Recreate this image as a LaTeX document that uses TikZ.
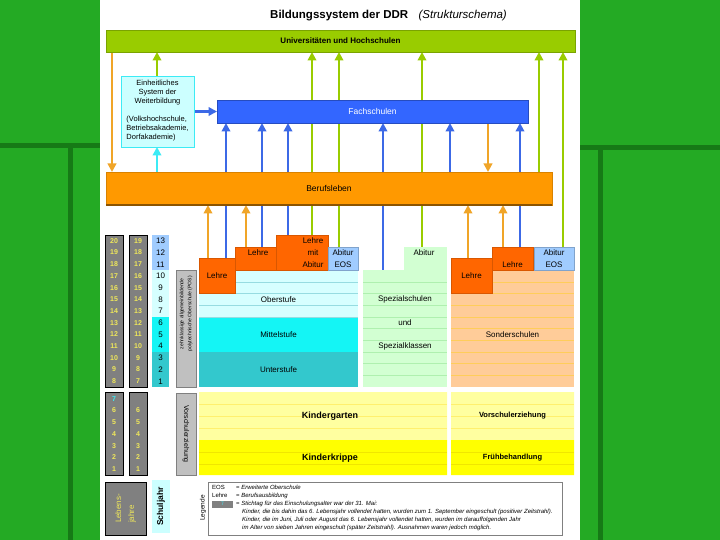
\documentclass[tikz,border=0pt]{standalone}
\usepackage{fontspec}
\setmainfont{Liberation Sans}
\usetikzlibrary{arrows.meta,positioning}
\definecolor{SlideGreen}{RGB}{36,170,36}
\definecolor{SlideDark}{RGB}{22,122,22}
\definecolor{UniGreen}{RGB}{153,204,0}
\definecolor{FachBlue}{RGB}{51,102,255}
\definecolor{BerufOrange}{RGB}{255,153,0}
\definecolor{LehreRed}{RGB}{255,102,0}
\definecolor{EosBlue}{RGB}{160,204,255}
\definecolor{WeiterCyan}{RGB}{204,255,255}
\definecolor{OberCyan}{RGB}{214,255,255}
\definecolor{OberLine}{RGB}{150,220,225}
\definecolor{MittelCyan}{RGB}{20,245,245}
\definecolor{UnterTeal}{RGB}{51,200,205}
\definecolor{SpezGreen}{RGB}{210,255,210}
\definecolor{SpezLine}{RGB}{175,240,175}
\definecolor{SonderPeach}{RGB}{255,204,153}
\definecolor{SonderLine}{RGB}{255,205,90}
\definecolor{KitaYellow}{RGB}{255,255,160}
\definecolor{KitaLine}{RGB}{255,240,110}
\definecolor{KrippeYellow}{RGB}{255,255,0}
\definecolor{KrippeLine}{RGB}{240,230,0}
\definecolor{AgeGray}{RGB}{128,128,128}
\definecolor{AgeYellow}{RGB}{240,232,90}
\definecolor{LabelGray}{RGB}{192,192,192}
\definecolor{ArrBlue}{RGB}{60,105,230}
\definecolor{ArrOrange}{RGB}{240,165,40}
\definecolor{ArrCyan}{RGB}{60,235,245}
\pgfdeclarelayer{page}
\pgfdeclarelayer{back}
\pgfsetlayers{page,back,main}
\newcommand{\flowarrow}[4]{%
  \draw[flow,#4] (#1,0 |- #2)--(#1,0 |- #3);}

\begin{document}
\begin{tikzpicture}[x=1pt,y=-1pt,
  blk/.style={anchor=north west,inner sep=0pt,outer sep=0pt},
  lbl/.style={inner sep=0pt,font=\fontsize{8}{11.7}\selectfont},
  lehre/.style={blk,fill=LehreRed,draw=LehreRed!85!black,line width=0.4pt},
  eos/.style={blk,fill=EosBlue,draw=EosBlue!80!black,line width=0.3pt,align=center,font=\fontsize{8}{11.7}\selectfont},
  agebox/.style={blk,fill=AgeGray,draw=black,line width=1pt},
  agenum/.style={inner sep=0pt,text=AgeYellow,font=\fontsize{7}{7}\selectfont\bfseries},
  sjnum/.style={inner sep=0pt,font=\fontsize{8}{8}\selectfont},
  prelbl/.style={inner sep=0pt,font=\fontsize{8.5}{9}\selectfont\bfseries},
  leg/.style={inner sep=0pt,anchor=west,font=\fontsize{6}{8.2}\selectfont},
  flow/.style={line width=2.2pt,-{Triangle[length=8.5pt,width=8.5pt]}}]

% slide
\useasboundingbox (0,0) rectangle (720,540);
\begin{pgfonlayer}{page}
\fill[SlideGreen] (0,0) rectangle (720,540);
\draw[SlideDark,line width=5pt] (0,146)--(100,146) (70,146)--(70,540);
\draw[SlideDark,line width=5pt] (580,148)--(720,148) (600,148)--(600,540);
\fill[white] (100,0) rectangle (580,540);
\end{pgfonlayer}

% title
\node[anchor=west,inner sep=0pt,font=\fontsize{11.5}{12}\selectfont\bfseries] (title) at (270,16) {Bildungssystem der DDR};
\node[right=10pt of title,inner sep=0pt,font=\fontsize{11.5}{12}\selectfont\itshape] (subtitle) {(Strukturschema)};

% upper bars
\node[blk,minimum width=469pt,minimum height=22pt,fill=UniGreen,draw=UniGreen!80!black,font=\fontsize{8}{9}\selectfont\bfseries] (univ) at (106,30) {Universitäten und Hochschulen};
\node[blk,minimum width=73pt,minimum height=71pt,fill=WeiterCyan,draw=ArrCyan,line width=0.6pt,align=center,font=\fontsize{7.5}{9}\selectfont] (weiter) at (121,76) {Einheitliches\\System der\\Weiterbildung\\[9pt]\begin{tabular}{@{}l@{}}(Volkshochschule,\\Betriebsakademie,\\Dorfakademie)\end{tabular}};
\node[blk,minimum width=311pt,minimum height=23pt,fill=FachBlue,draw=FachBlue!75!black,text=white,font=\fontsize{8.5}{9}\selectfont] (fach) at (217,100) {Fachschulen};
\node[blk,minimum width=446pt,minimum height=33pt,fill=BerufOrange,draw=BerufOrange!85!black,font=\fontsize{8.5}{9}\selectfont] (beruf) at (106,172) {Berufsleben};
\draw[BerufOrange!55!black,line width=1.2pt] (beruf.south west)--(beruf.south east);

% age columns
\node[agebox,minimum width=18pt,minimum height=152.1pt] (ageA) at (105,235) {};
\node[agebox,minimum width=18pt,minimum height=152.1pt] (ageB) at (129,235) {};
\node[agebox,minimum width=18pt,minimum height=83pt] (ageAlow) at (105,392) {};
\node[agebox,minimum width=18pt,minimum height=83pt] (ageBlow) at (129,392) {};
\foreach \n [count=\i from 0] in {20,19,...,8}
  \node[agenum] (ageA\n) at (114,240.85+\i*11.7) {\n};
\foreach \n [count=\i from 0] in {19,18,...,7}
  \node[agenum] (ageB\n) at (138,240.85+\i*11.7) {\n};
\node[agenum,text=ArrCyan] (ageAl7) at (114,398.8) {7};
\foreach \n [count=\i from 1] in {6,5,...,1} {
  \node[agenum] (ageAl\n) at (114,398.8+\i*11.7) {\n};
  \node[agenum] (ageBl\n) at (138,398.8+\i*11.7) {\n};
}

% school years
\fill[EosBlue] (152,235) rectangle (169,270.1);
\fill[OberCyan] (152,270.1) rectangle (169,316.9);
\fill[MittelCyan] (152,316.9) rectangle (169,352);
\fill[UnterTeal] (152,352) rectangle (169,387.1);
\foreach \n [count=\i from 0] in {13,12,...,1}
  \node[sjnum] (sj\n) at (160.5,240.85+\i*11.7) {\n};

% side labels
\node[blk,minimum width=20pt,minimum height=117pt,fill=LabelGray,draw=AgeGray] (poslbl) at (176,270.1) {};
\node[rotate=90,anchor=east,align=center,inner sep=0pt,font=\fontsize{5}{8}\selectfont] (poslblt) at (186,276) {zehnklassige allgemeinbildende\\polytechnische Oberschule (POS)};
\node[blk,minimum width=20pt,minimum height=82pt,fill=LabelGray,draw=AgeGray] (vorlbl) at (176,393) {};
\node[rotate=-90,inner sep=0pt,font=\fontsize{7}{8}\selectfont] (vorlblt) at (vorlbl.center) {Vorschulerziehung};

% POS
\fill[OberCyan] (199,270.1) rectangle (358,316.9);
\fill[MittelCyan] (199,316.9) rectangle (358,352);
\fill[UnterTeal] (199,352) rectangle (358,387.1);
\foreach \y in {270.1,281.8,293.5,305.2,316.9}
  \draw[OberLine,line width=0.6pt] (199,\y)--(358,\y);
\node[lbl] (ober) at (278.5,299.35) {Oberstufe};
\node[lbl] (mittel) at (278.5,334.45) {Mittelstufe};
\node[lbl] (unter) at (278.5,369.55) {Unterstufe};
\node[lehre,minimum width=36pt,minimum height=35.1pt] (lehreA) at (199,258.4) {};
\node[lbl] (lehreAt) at (217,275.95) {Lehre};
\node[lehre,minimum width=41pt,minimum height=23.4pt] (lehreB) at (235,246.7) {};
\node[lbl] (lehreBt) at (258,252.55) {Lehre};
\node[lehre,minimum width=52pt,minimum height=35.1pt] (lehreAbi) at (276,235) {};
\node[lbl,align=center] (lehreAbit) at (313,252.55) {Lehre\\mit\\Abitur};
\node[eos,minimum width=30pt,minimum height=23.4pt] (eosA) at (328,246.7) {Abitur\\EOS};

% Spezialschulen
\node[blk,fill=SpezGreen,minimum width=84pt,minimum height=117pt] (spez) at (363,270.1) {};
\node[blk,fill=SpezGreen,minimum width=43pt,minimum height=23.4pt] (spezAbi) at (404,246.7) {};
\foreach \y in {281.8,293.5,305.2,316.9,328.6,340.3,352,363.7,375.4}
  \draw[SpezLine,line width=0.6pt] (363,\y)--(447,\y);
\node[lbl] (spezAbit) at (424,252.55) {Abitur};
\node[lbl] (spezA) at (405,299.35) {Spezialschulen};
\node[lbl] (spezB) at (405,322.75) {und};
\node[lbl] (spezC) at (405,346.15) {Spezialklassen};

% Sonderschulen
\node[blk,fill=SonderPeach,minimum width=123pt,minimum height=117pt] (sonder) at (451,270.1) {};
\foreach \y in {281.8,293.5,305.2,316.9,328.6,340.3,352,363.7,375.4}
  \draw[SonderLine,line width=0.6pt] (451,\y)--(574,\y);
\node[lehre,minimum width=41pt,minimum height=35.1pt] (lehreC) at (451,258.4) {};
\node[lbl] (lehreCt) at (471.5,275.95) {Lehre};
\node[lehre,minimum width=41pt,minimum height=23.4pt] (lehreD) at (492,246.7) {};
\node[lbl] (lehreDt) at (512.5,264.25) {Lehre};
\node[eos,minimum width=40pt,minimum height=23.4pt] (eosB) at (534,246.7) {Abitur\\EOS};
\node[lbl] (sondert) at (512.5,334.45) {Sonderschulen};

% Vorschule
\fill[KitaYellow] (199,392) rectangle (447,440) (451,392) rectangle (574,440);
\fill[KrippeYellow] (199,440) rectangle (447,475) (451,440) rectangle (574,475);
\foreach \y in {404,416,428} {\draw[KitaLine,line width=0.6pt] (199,\y)--(447,\y) (451,\y)--(574,\y);}
\foreach \y in {452,464} {\draw[KrippeLine,line width=0.6pt] (199,\y)--(447,\y) (451,\y)--(574,\y);}
\node[prelbl,font=\fontsize{9}{9}\selectfont\bfseries] (kita) at (330,416) {Kindergarten};
\node[prelbl,font=\fontsize{9}{9}\selectfont\bfseries] (krippe) at (330,458) {Kinderkrippe};
\node[prelbl,font=\fontsize{7.5}{9}\selectfont\bfseries] (vorsch) at (512.5,416) {Vorschulerziehung};
\node[prelbl,font=\fontsize{7.5}{9}\selectfont\bfseries] (frueh) at (512.5,458) {Frühbehandlung};

% legend
\node[agebox,minimum width=41pt,minimum height=53pt] (lebbox) at (105,482) {};
\node[rotate=90,align=left,inner sep=0pt,text=AgeYellow,font=\fontsize{8}{13}\selectfont] (lebtxt) at (lebbox.center) {Lebens-\\jahre};
\node[blk,minimum width=18pt,minimum height=53pt,fill=WeiterCyan] (sjbox) at (152,480) {};
\node[rotate=90,inner sep=0pt,font=\fontsize{8.5}{9}\selectfont\bfseries] (sjtxt) at (sjbox.center) {Schuljahr};
\node[blk,minimum width=354pt,minimum height=53pt,draw=AgeGray,line width=0.5pt] (legbox) at (208,482) {};
\node[rotate=90,inner sep=0pt,font=\fontsize{6.5}{7}\selectfont] (legtitle) at (203,508) {Legende};
\node[leg] (legEOS) at (212,487) {EOS};
\node[leg] (legEOSd) at (236,487) {= \textit{Erweiterte Oberschule}};
\node[leg] (legLehre) at (212,495.5) {Lehre};
\node[leg] (legLehred) at (236,495.5) {= \textit{Berufsausbildung}};
\node[blk,fill=AgeGray,minimum width=21pt,minimum height=7.5pt,text=ArrCyan,font=\fontsize{5}{5}\selectfont] (legkey) at (212,500.5) {7};
\node[leg] (legKeyd) at (236,504) {= \textit{Stichtag für das Einschulungsalter war der 31. Mai:}};
\node[leg,anchor=north west,align=left,font=\fontsize{6}{8.2}\selectfont\itshape] (legtext) at (242,508.5) {Kinder, die bis dahin das 6. Lebensjahr vollendet hatten, wurden zum 1. September eingeschult (positiver Zeitstrahl).\\Kinder, die im Juni, Juli oder August das 6. Lebensjahr vollendet hatten, wurden im darauffolgenden Jahr\\im Alter von sieben Jahren eingeschult (später Zeitstrahl). Ausnahmen waren jedoch möglich.};

% flows
\begin{pgfonlayer}{back}
\flowarrow{112}{univ.south}{beruf.north}{ArrOrange}
\flowarrow{157}{weiter.north}{univ.south}{UniGreen}
\flowarrow{157}{beruf.north}{weiter.south}{ArrCyan}
\draw[flow,ArrBlue] (weiter.east)--(fach.west);
\foreach \x/\src in {226/lehreA,262/lehreB,288/lehreAbi,383/spez,450/beruf,520/lehreD}
  {\flowarrow{\x}{\src.north}{fach.south}{ArrBlue}}
\foreach \x/\src in {208/lehreA,246/lehreB,468/lehreC,503/lehreD}
  {\flowarrow{\x}{\src.north}{beruf.south}{ArrOrange}}
\flowarrow{488}{fach.south}{beruf.north}{ArrOrange}
\foreach \x/\src in {312/lehreAbi,339/eosA,422/spezAbi,539/beruf,563/eosB}
  {\flowarrow{\x}{\src.north}{univ.south}{UniGreen}}
\end{pgfonlayer}
\end{tikzpicture}
\end{document}
